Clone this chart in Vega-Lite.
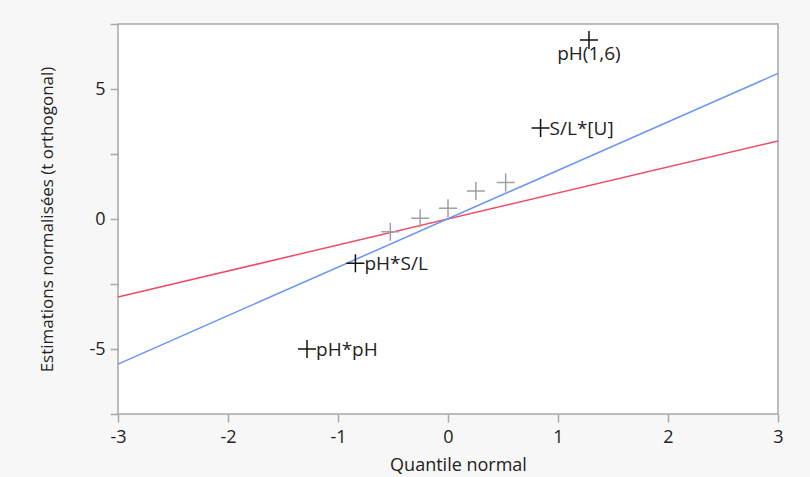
{
  "$schema": "https://vega.github.io/schema/vega-lite/v6.json",
  "width": 660,
  "height": 390,
  "autosize": "none",
  "padding": {"left": 118, "top": 24, "right": 32, "bottom": 63},
  "background": "#f7f7f7",
  "config": {
    "font": "Open Sans",
    "view": {"fill": "white", "stroke": "#a8a8a8", "strokeWidth": 1.5}
  },
  "datasets": {
    "effets": [
      {"terme": "pH(1,6)", "quantile": 1.2816, "estimation": 6.88, "significatif": "oui"},
      {"terme": "S/L*[U]", "quantile": 0.8416, "estimation": 3.5, "significatif": "oui"},
      {"terme": "", "quantile": 0.5244, "estimation": 1.4, "significatif": "non"},
      {"terme": "", "quantile": 0.2533, "estimation": 1.08, "significatif": "non"},
      {"terme": "", "quantile": 0.0, "estimation": 0.41, "significatif": "non"},
      {"terme": "", "quantile": -0.2533, "estimation": 0.03, "significatif": "non"},
      {"terme": "", "quantile": -0.5244, "estimation": -0.49, "significatif": "non"},
      {"terme": "pH*S/L", "quantile": -0.8416, "estimation": -1.7, "significatif": "oui"},
      {"terme": "pH*pH", "quantile": -1.2816, "estimation": -5.0, "significatif": "oui"}
    ],
    "droites": [
      {"droite": "pente 1", "quantile": -3, "estimation": -3.0},
      {"droite": "pente 1", "quantile": 3, "estimation": 3.0},
      {"droite": "ajustement", "quantile": -3, "estimation": -5.58},
      {"droite": "ajustement", "quantile": 3, "estimation": 5.6}
    ]
  },
  "encoding": {
    "x": {
      "field": "quantile",
      "type": "quantitative",
      "scale": {"domain": [-3, 3], "nice": false, "zero": false},
      "axis": {
        "title": "Quantile normal",
        "values": [-3, -2, -1, 0, 1, 2, 3],
        "labelExpr": "replace(datum.label, '\u2212', '-')",
        "labelFlush": false,
        "grid": false,
        "domain": false,
        "tickColor": "#a8a8a8",
        "tickWidth": 1.5,
        "tickSize": 8,
        "labelPadding": 6,
        "labelFontSize": 18,
        "labelColor": "#222222",
        "titleFontSize": 18,
        "titleFontWeight": "normal",
        "titleColor": "#222222",
        "titleX": 340,
        "titleY": 51,
        "titleBaseline": "middle"
      }
    },
    "y": {
      "field": "estimation",
      "type": "quantitative",
      "scale": {"domain": [-7.5, 7.5], "nice": false, "zero": false},
      "axis": {
        "title": "Estimations normalisées (t orthogonal)",
        "values": [-7.5, -5, -2.5, 0, 2.5, 5, 7.5],
        "labelExpr": "datum.value % 5 === 0 ? replace(datum.label, '\u2212', '-') : ''",
        "labelFlush": false,
        "grid": false,
        "domain": false,
        "tickColor": "#a8a8a8",
        "tickWidth": 1.5,
        "tickSize": 8,
        "labelPadding": 5,
        "labelFontSize": 18,
        "labelColor": "#222222",
        "titleFontSize": 17,
        "titleFontWeight": "normal",
        "titleColor": "#222222",
        "titleX": -71,
        "titleY": 195,
        "titleAngle": -90,
        "titleAlign": "center",
        "titleBaseline": "middle"
      }
    }
  },
  "layer": [
    {
      "data": {"name": "droites"},
      "mark": {"type": "line", "strokeWidth": 1.5},
      "encoding": {
        "detail": {"field": "droite"},
        "color": {
          "field": "droite",
          "type": "nominal",
          "scale": {"domain": ["pente 1", "ajustement"], "range": ["#ee4d66", "#6a94f6"]},
          "legend": null
        }
      }
    },
    {
      "data": {"name": "effets"},
      "mark": {"type": "point", "shape": "M-1,0H1M0,-1V1", "size": 324, "filled": false, "strokeWidth": 1.5, "opacity": 1},
      "encoding": {
        "stroke": {
          "field": "significatif",
          "type": "nominal",
          "scale": {"domain": ["oui", "non"], "range": ["#111111", "#a0a0a0"]},
          "legend": null
        }
      }
    },
    {
      "data": {"name": "effets"},
      "transform": [{"filter": "datum.terme === 'pH(1,6)'"}],
      "mark": {"type": "text", "align": "center", "baseline": "middle", "dy": 14, "fontSize": 19, "color": "#222222"},
      "encoding": {"text": {"field": "terme"}}
    },
    {
      "data": {"name": "effets"},
      "transform": [{"filter": "datum.terme !== '' && datum.terme !== 'pH(1,6)'"}],
      "mark": {"type": "text", "align": "left", "baseline": "middle", "dx": 9, "dy": 1, "fontSize": 19, "color": "#222222"},
      "encoding": {"text": {"field": "terme"}}
    }
  ],
  "resolve": {"scale": {"color": "independent", "stroke": "independent"}}
}
